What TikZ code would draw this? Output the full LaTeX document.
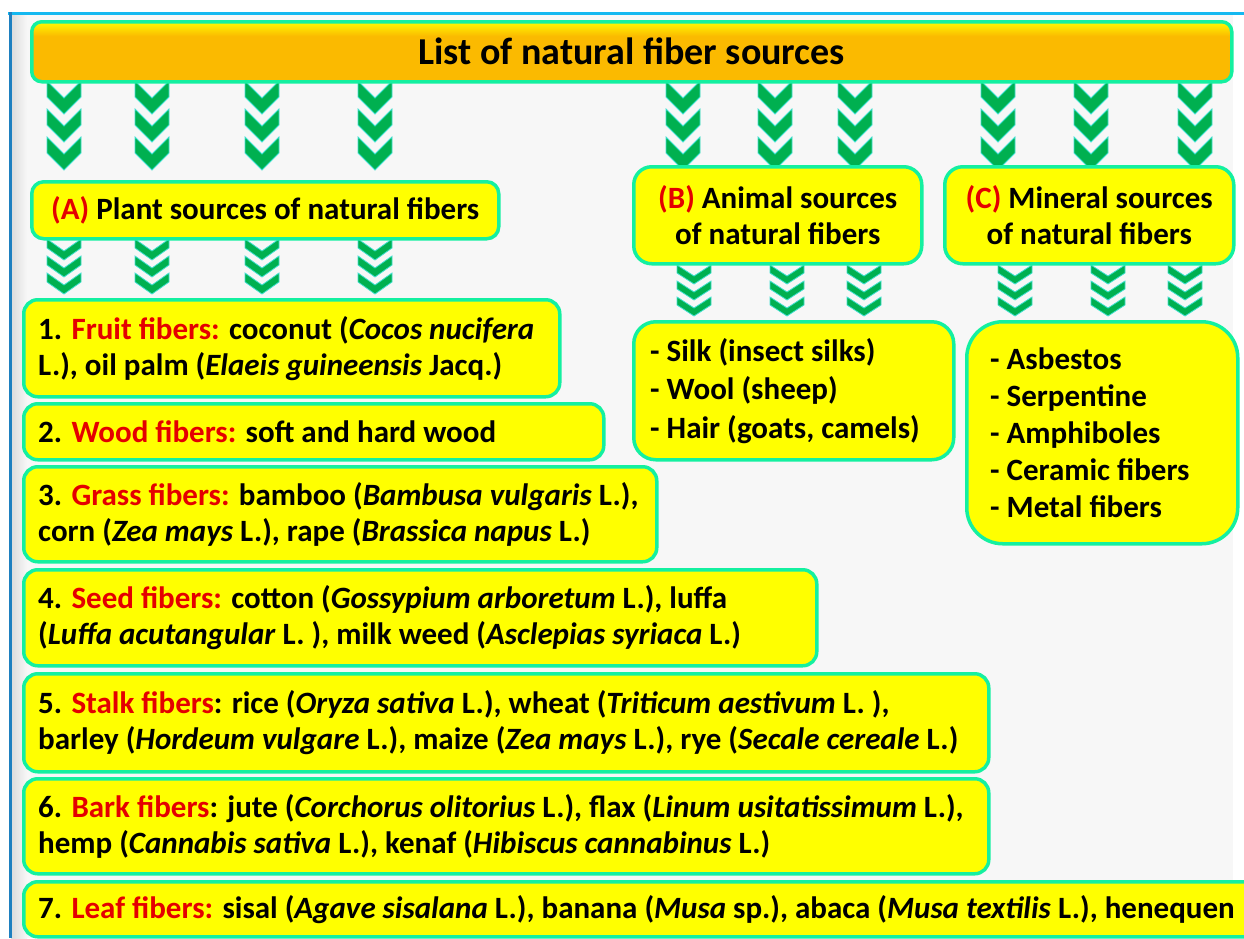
\documentclass[tikz,border=0pt]{standalone}
\usepackage{fontspec}
\setmainfont{Carlito}
\definecolor{bordc}{RGB}{20,240,160}
\definecolor{boxy}{RGB}{255,255,0}
\definecolor{fred}{RGB}{228,0,0}
\definecolor{chevg}{RGB}{0,176,80}
\definecolor{chevc}{RGB}{64,224,208}
\definecolor{bggray}{RGB}{247,247,247}
\definecolor{topblue}{RGB}{20,184,240}
\definecolor{leftblue}{RGB}{30,128,192}
\definecolor{orT}{RGB}{255,240,0}
\definecolor{orB}{RGB}{251,186,0}
\pgfdeclareverticalshading{titlesh}{100bp}{color(0bp)=(orB); color(63bp)=(orB); color(73bp)=(orT); color(100bp)=(orT)}
\newcommand\R[1]{\textcolor{fred}{#1}}
\newcommand\chevcol[5]{%
  \foreach \k in {0,1,2}{%
    \pgfmathsetmacro\yy{#2+\k*#5}%
    \filldraw[chev] ({#1-17},\yy) -- ({#1},{\yy+#3}) -- ({#1+17},\yy) -- ({#1+17},{\yy+#4}) -- ({#1},{\yy+#3+#4}) -- ({#1-17},{\yy+#4}) -- cycle;
  }}
\tikzset{
  chev/.style={fill=chevg, draw=chevc, line width=0.8pt},
  box/.style={draw=bordc, line width=3.5pt, fill=boxy, rounded corners=14pt, anchor=north west, inner sep=0pt},
  txt/.style={anchor=west, align=left, inner sep=0pt, font=\fontsize{31}{36}\selectfont\bfseries},
  ctxt/.style={align=center, inner sep=0pt, font=\fontsize{31}{36}\selectfont\bfseries},
}
\begin{document}
\begin{tikzpicture}[x=1pt,y=-1pt]
\useasboundingbox (0,0) rectangle (1244,938);
\fill[white] (0,0) rectangle (1244,938);
\fill[bggray] (11,14) rectangle (1233,938);
\shade[left color=black!14, right color=bggray] (11,14) rectangle (27,938);
\draw[topblue, line width=3pt] (8,13) -- (1244,13);
\draw[leftblue, line width=3pt] (10,12) -- (10,938);

% chevrons
\foreach \x in {64,152,262,375,683,775,855,998,1091,1195}{\chevcol{\x}{81}{17}{16}{28}}
\foreach \x in {64,152,262,375}{\chevcol{\x}{239}{12}{9}{17}}
\foreach \x in {694,787,864,1015,1108,1185}{\chevcol{\x}{265}{11}{8}{16}}

% title
\node[box, shading=titlesh, rounded corners=10pt, minimum width=1200pt, minimum height=60pt,
      font=\fontsize{38}{40}\selectfont\bfseries] (title) at (30,20) {List of natural fiber sources};

% category boxes
\node[box, minimum width=467pt, minimum height=57pt, rounded corners=12pt] (A) at (30,180) {};
\node[ctxt] (At) at (A.center) {\R{(A)} Plant sources of natural fibers};
\node[box, minimum width=288pt, minimum height=97pt, rounded corners=18pt] (B) at (632,165) {};
\node[ctxt] (Bt) at (B.center) {\R{(B)} Animal sources\\of natural fibers};
\node[box, minimum width=289pt, minimum height=97pt, rounded corners=18pt] (C) at (943,165) {};
\node[ctxt] (Ct) at (C.center) {\R{(C)} Mineral sources\\of natural fibers};

% animal / mineral lists
\node[box, minimum width=320pt, minimum height=138pt, rounded corners=22pt] (BL) at (632,320) {};
\node[txt, font=\fontsize{31}{38.5}\selectfont\bfseries] (BLt) at ([xshift=18pt]BL.west) {- Silk (insect silks)\\- Wool (sheep)\\- Hair (goats, camels)};
\node[box, minimum width=271pt, minimum height=222pt, rounded corners=36pt] (CL) at (965,320) {};
\node[txt, font=\fontsize{31}{37.2}\selectfont\bfseries] (CLt) at ([xshift=25pt]CL.west) {- Asbestos\\- Serpentine\\- Amphiboles\\- Ceramic fibers\\- Metal fibers};

% plant list
\node[box, minimum width=536pt, minimum height=97pt] (b1) at (22,298) {};
\node[txt] (t1) at ([xshift=16pt]b1.west) {1. \R{Fruit fibers:} coconut (\textit{Cocos nucifera}\\L.), oil palm (\textit{Elaeis guineensis} Jacq.)};
\node[box, minimum width=580pt, minimum height=56pt] (b2) at (22,402) {};
\node[txt] (t2) at ([xshift=16pt]b2.west) {2. \R{Wood fibers:} soft and hard wood};
\node[box, minimum width=633pt, minimum height=95pt] (b3) at (22,465) {};
\node[txt] (t3) at ([xshift=16pt]b3.west) {3. \R{Grass fibers:} bamboo (\textit{Bambusa vulgaris} L.),\\corn (\textit{Zea mays} L.), rape (\textit{Brassica napus} L.)};
\node[box, minimum width=793pt, minimum height=96pt] (b4) at (22,568) {};
\node[txt] (t4) at ([xshift=16pt]b4.west) {4. \R{Seed fibers:} cotton (\textit{Gossypium arboretum} L.), luffa\\(\textit{Luffa acutangular} L. ), milk weed (\textit{Asclepias syriaca} L.)};
\node[box, minimum width=965pt, minimum height=98pt] (b5) at (22,672) {};
\node[txt] (t5) at ([xshift=16pt]b5.west) {5. \R{Stalk fibers}: rice (\textit{Oryza sativa} L.), wheat (\textit{Triticum aestivum} L. ),\\barley (\textit{Hordeum vulgare} L.), maize (\textit{Zea mays} L.), rye (\textit{Secale cereale} L.)};
\node[box, minimum width=965pt, minimum height=95pt] (b6) at (22,777) {};
\node[txt] (t6) at ([xshift=16pt]b6.west) {6. \R{Bark fibers}: jute (\textit{Corchorus olitorius} L.), flax (\textit{Linum usitatissimum} L.),\\hemp (\textit{Cannabis sativa} L.), kenaf (\textit{Hibiscus cannabinus} L.)};
\node[box, minimum width=1250pt, minimum height=55pt] (b7) at (22,880) {};
\node[txt] (t7) at ([xshift=16pt]b7.west) {7. \R{Leaf fibers:} sisal (\textit{Agave sisalana} L.), banana (\textit{Musa} sp.), abaca (\textit{Musa textilis} L.), henequen};
\end{tikzpicture}
\end{document}
